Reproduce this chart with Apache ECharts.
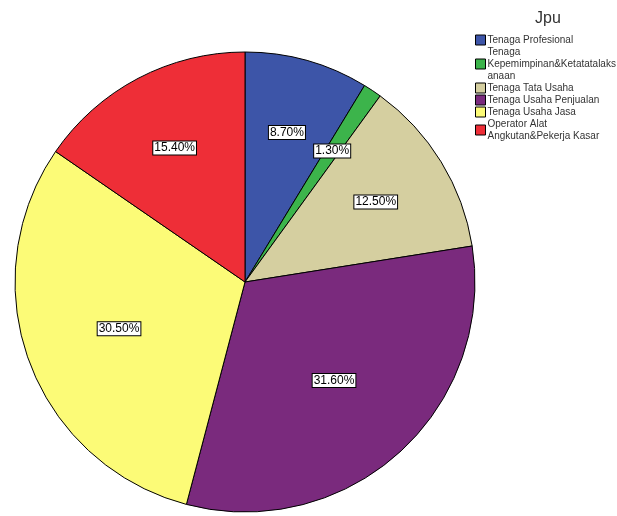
<!DOCTYPE html>
<html>
<head>
<meta charset="utf-8">
<script src="https://cdn.jsdelivr.net/npm/echarts@6/dist/echarts.min.js"></script>
<style>
  html, body { margin: 0; padding: 0; background: #fff; }
  #chart { width: 617px; height: 516px; }
</style>
</head>
<body>
<div id="chart"></div>
<script>
// 数据
const categories = [
    'Tenaga Profesional',
    'Tenaga Kepemimpinan&Ketatatalaksanaan',
    'Tenaga Tata Usaha',
    'Tenaga Usaha Penjualan',
    'Tenaga Usaha Jasa',
    'Operator Alat Angkutan&Pekerja Kasar'
];
const legendLabels = [
    'Tenaga Profesional',
    'Tenaga\nKepemimpinan&Ketatatalaks\nanaan',
    'Tenaga Tata Usaha',
    'Tenaga Usaha Penjualan',
    'Tenaga Usaha Jasa',
    'Operator Alat\nAngkutan&Pekerja Kasar'
];
const percents = [8.7, 1.3, 12.5, 31.6, 30.5, 15.4];
const colors = ['#3d55a8', '#3cb44b', '#d5cfa0', '#7a2a7d', '#fcfb77', '#ee2e37'];

const pieCenter = [245, 282];
const pieRadius = 230;

const chart = echarts.init(document.getElementById('chart'));

const option = {
    backgroundColor: '#fff',
    animation: false,
    title: {
        text: 'Jpu',
        left: 530,
        top: 6,
        textStyle: { fontFamily: 'Liberation Sans', fontSize: 16, fontWeight: 'normal', color: '#333' }
    },
    legend: {
        orient: 'vertical',
        left: 475,
        top: 34,
        padding: 0,
        itemWidth: 10,
        itemHeight: 10,
        itemGap: 0,
        icon: 'rect',
        itemStyle: { borderColor: '#000', borderWidth: 1 },
        textStyle: { fontFamily: 'Liberation Sans', fontSize: 10, color: '#333', lineHeight: 12, padding: [0, 0, 0, -3] },
        formatter: name => legendLabels[categories.indexOf(name)],
        data: categories
    },
    series: [{
        type: 'pie',
        center: pieCenter,
        radius: pieRadius,
        startAngle: 90,
        clockwise: true,
        itemStyle: { borderColor: '#000', borderWidth: 1 },
        label: {
            show: true,
            position: 'inside',
            formatter: p => p.value.toFixed(2) + '%',
            fontFamily: 'Liberation Sans',
            fontSize: 12,
            color: '#000',
            backgroundColor: '#fff',
            borderColor: '#000',
            borderWidth: 1,
            padding: [1, 1, 0, 1]
        },
        labelLayout: params => {
            // 标签放在扇形质心处
            const theta = percents[params.dataIndex] / 100 * 2 * Math.PI;
            const k = (4 * Math.sin(theta / 2) / (3 * theta)) / 0.5;
            const r = params.labelRect;
            const cx = r.x + r.width / 2, cy = r.y + r.height / 2;
            return {
                x: pieCenter[0] + (cx - pieCenter[0]) * k,
                y: pieCenter[1] + (cy - pieCenter[1]) * k,
                align: 'center',
                verticalAlign: 'middle'
            };
        },
        emphasis: { disabled: true },
        data: categories.map((name, i) => ({
            name: name,
            value: percents[i],
            itemStyle: { color: colors[i] }
        }))
    }]
};

chart.setOption(option);
</script>
</body>
</html>
